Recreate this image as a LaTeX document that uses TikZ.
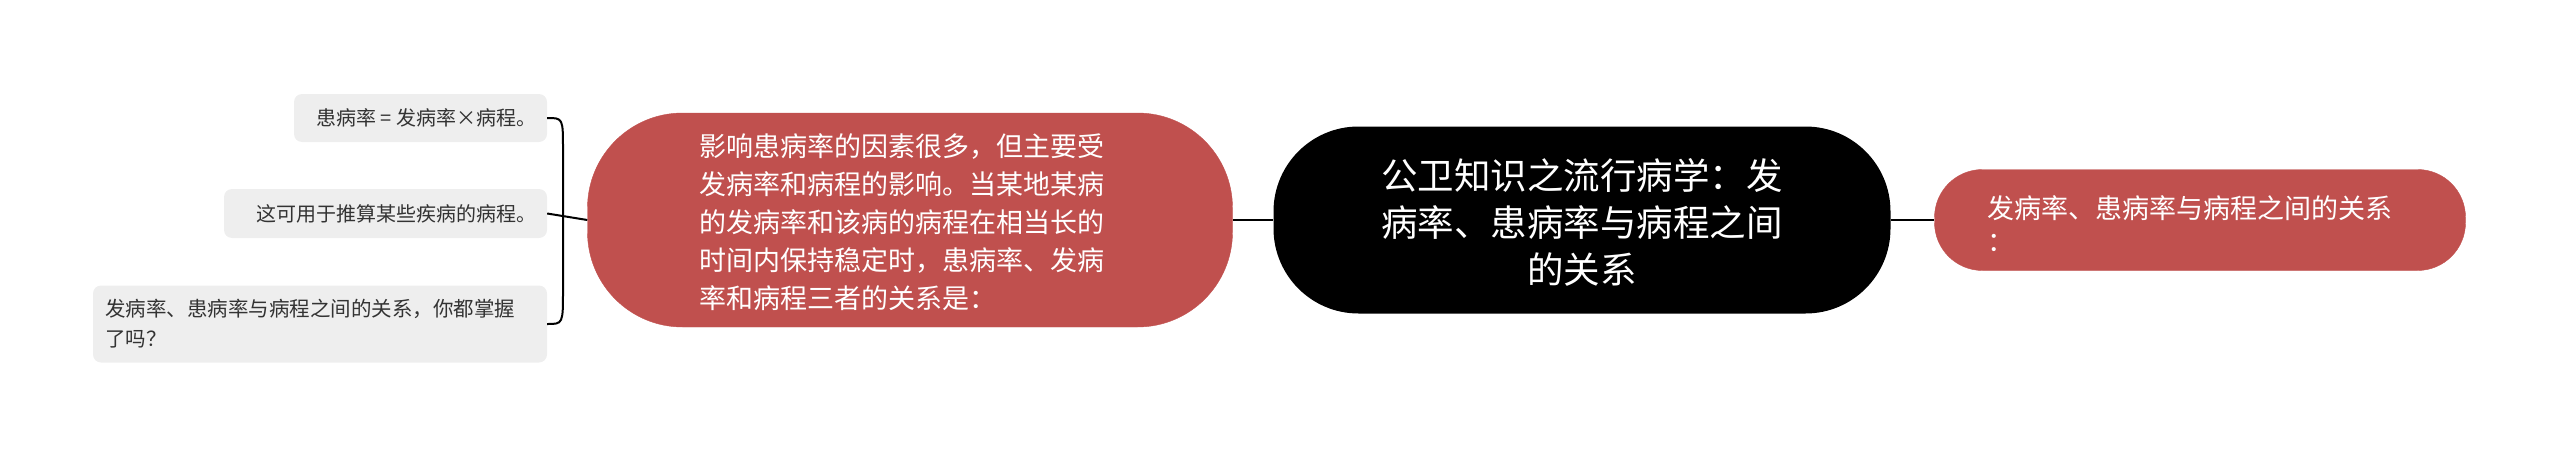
\documentclass[tikz,border=0pt]{standalone}
\usepackage{fontspec}
\setmainfont{Noto Sans CJK SC}
\begin{document}
\begin{tikzpicture}[x=1pt,y=1pt,
  leaf/.style={fill=leafgray,rounded corners=8pt,inner sep=0pt,text=textgray,font=\fontsize{20}{30}\selectfont},
  redbox/.style={fill=mainred,draw=mainred,text=white,inner sep=0pt},
  conn/.style={line width=2pt,black}]
\definecolor{mainred}{RGB}{192,80,78}
\definecolor{leafgray}{RGB}{238,238,238}
\definecolor{textgray}{RGB}{51,51,51}
\useasboundingbox (0,0) rectangle (2560,-455);
% shapes
\node[redbox,rounded corners=95pt,minimum width=645pt,minimum height=214pt] (mid) at (910,-220) {};
\node[text=white,align=left,font=\fontsize{27}{38}\selectfont] (midt) at (902,-222) {影响患病率的因素很多，但主要受\\发病率和病程的影响。当某地某病\\的发病率和该病的病程在相当长的\\时间内保持稳定时，患病率、发病\\率和病程三者的关系是：};
\node[fill=black,rounded corners=85pt,minimum width=617pt,minimum height=187pt,inner sep=0pt] (root) at (1582,-220) {};
\node[text=white,align=center,font=\fontsize{36.5}{47}\selectfont] (roott) at (1582,-222) {公卫知识之流行病学：发\\病率、患病率与病程之间\\的关系};
\node[redbox,rounded corners=48pt,minimum width=531pt,minimum height=101pt] (right) at (2200,-220) {};
\node[text=white,text width=430pt,align=left,font=\fontsize{27}{33}\selectfont] (rightt) at (2202,-224) {发病率、患病率与病程之间的关系\\：};
\node[leaf,minimum width=253pt,minimum height=48pt] (b1) at (420.5,-118) {};
\node[text=textgray,font=\fontsize{20}{30}\selectfont,anchor=east] (b1t) at (540,-118) {患病率 = 发病率×病程。};
\node[leaf,minimum width=323pt,minimum height=49pt] (b2) at (385.5,-213.5) {};
\node[text=textgray,font=\fontsize{20}{30}\selectfont,anchor=east] (b2t) at (540,-213.5) {这可用于推算某些疾病的病程。};
\node[leaf,minimum width=454pt,minimum height=77pt] (b3) at (320,-324) {};
\node[text=textgray,text width=440pt,align=left,font=\fontsize{20.5}{30}\selectfont] (b3t) at (325,-324) {发病率、患病率与病程之间的关系，你都掌握\\了吗？};
% connectors
\draw[conn] (b1.east) .. controls (563,-118) .. (563,-150) -- (563,-290) .. controls (563,-324) .. (b3.east);
\draw[conn] (b2.east) -- (mid.west);
\draw[conn] (mid.east) -- (root.west);
\draw[conn] (root.east) -- (right.west);
\end{tikzpicture}
\end{document}
